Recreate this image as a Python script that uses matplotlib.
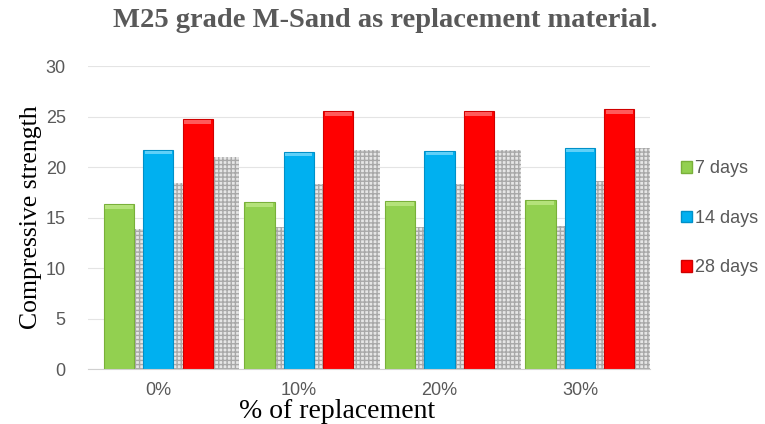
#!/usr/bin/env python3

import matplotlib.pyplot as plt
import numpy as np
from matplotlib.patches import Patch

# data
categories = ['0%', '10%', '20%', '30%']
series_names = ['7 days', '14 days', '28 days']
days_7 = [16.3, 16.5, 16.6, 16.7]
days_14 = [21.7, 21.5, 21.6, 21.9]
days_28 = [24.75, 25.5, 25.5, 25.7]

colors = ['#92d050', '#00b0f0', '#ff0000']
edge_colors = ['#79b03a', '#0090c8', '#d00000']
top_colors = ['#b4e27a', '#5fd0f8', '#ff5a5a']

sans = ['Liberation Sans', 'DejaVu Sans']
serif = ['Liberation Serif', 'DejaVu Serif']


def main():
    fig = plt.figure(figsize=(7.65, 4.24), dpi=100)
    ax = fig.add_axes([0.115, 0.1297, 0.735, 0.7146])

    x = np.arange(len(categories))
    width = 0.215
    offsets = [-0.28, 0.0, 0.28]
    series = [days_7, days_14, days_28]

    # soft dotted shadows behind the bars
    for off, vals in zip(offsets, series):
        vals = np.array(vals)
        ax.bar(x + off + 0.19, vals * 0.85, width, color='#e6e6e6',
               edgecolor='#a8a8a8', hatch='++++', linewidth=0, zorder=1)

    # bars with a lighter bevel strip at the top
    for off, vals, c, ec, tc in zip(offsets, series, colors, edge_colors,
                                    top_colors):
        vals = np.array(vals)
        ax.bar(x + off, vals, width, color=c, edgecolor=ec, linewidth=0.8,
               zorder=3)
        ax.bar(x + off, 0.35, width * 0.9, bottom=vals - 0.45, color=tc,
               linewidth=0, zorder=4)

    ax.set_xlim(-0.5, len(categories) - 0.5)
    ax.set_ylim(0, 30)
    ax.set_yticks(np.arange(0, 31, 5))
    ax.set_xticks(x)
    ax.set_xticklabels(categories)

    ax.grid(axis='y', color='#e4e4e4', linewidth=0.8, zorder=0)
    ax.set_axisbelow(True)
    for s in ['top', 'right', 'left']:
        ax.spines[s].set_visible(False)
    ax.spines['bottom'].set_color('#d0d0d0')
    ax.spines['bottom'].set_zorder(5)

    ax.tick_params(length=0, colors='#595959', labelsize=13)
    ax.tick_params(axis='y', pad=16)
    ax.tick_params(axis='x', pad=9)
    for t in ax.get_xticklabels() + ax.get_yticklabels():
        t.set_family(sans)

    ax.set_xlabel('% of replacement', family=serif, fontsize=20,
                  color='black')
    ax.xaxis.set_label_coords(0.443, -0.1)
    ax.set_ylabel('Compressive strength', family=serif, fontsize=18.5,
                  color='black')
    ax.yaxis.set_label_coords(-0.082, 0.5)

    fig.suptitle('M25 grade M-Sand as replacement material.', x=0.503,
                 y=0.98, family=serif, fontweight='bold', fontsize=20.5,
                 color='#595959')

    handles = [Patch(facecolor=c, edgecolor=ec) for c, ec in
               zip(colors, edge_colors)]
    leg = fig.legend(handles, series_names, loc='upper left',
                     bbox_to_anchor=(0.869, 0.66), frameon=False,
                     handlelength=0.6, handleheight=0.6, handletextpad=0.2,
                     labelspacing=1.8, prop={'family': sans, 'size': 13})
    for t in leg.get_texts():
        t.set_color('#595959')

    fig.savefig('out.png', dpi=100)


if __name__ == '__main__':
    main()
